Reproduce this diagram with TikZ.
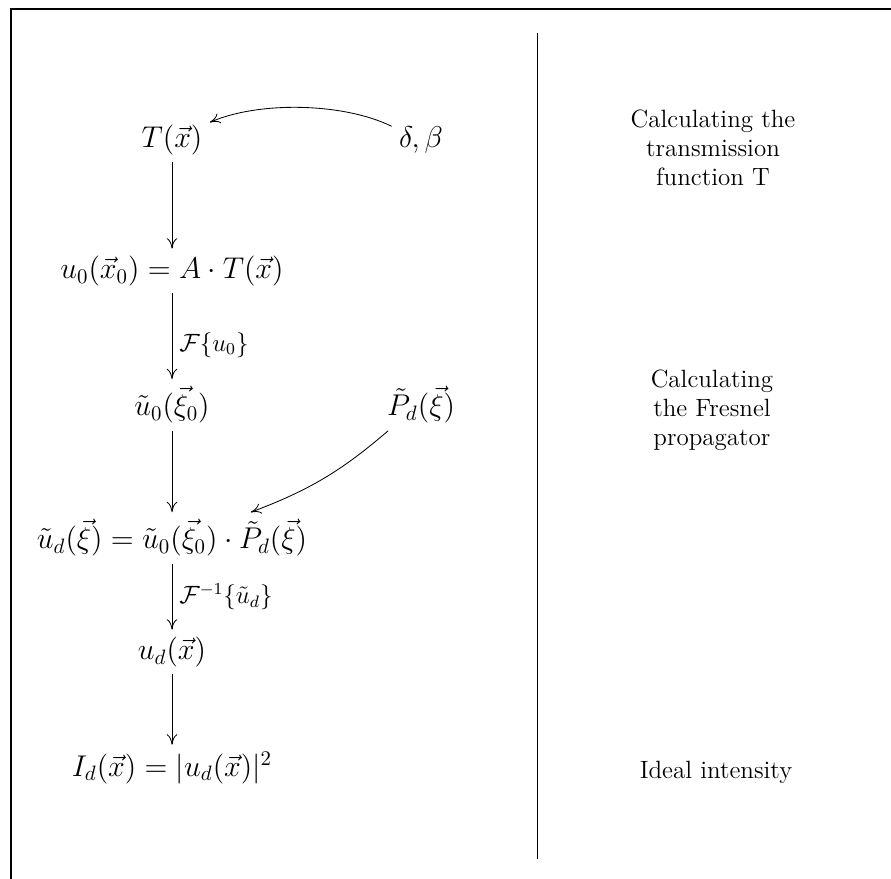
\documentclass[tikz,border=0pt]{standalone}
\usetikzlibrary{arrows.meta}
\begin{document}
\begin{tikzpicture}[x=0.48pt,y=0.48pt,
  mathnode/.style={font=\Large},
  lbl/.style={font=\large},
  desc/.style={font=\large, align=center},
  arr/.style={-{To[length=5pt,width=5pt]}},
  frame/.style={line width=0.6pt}]
\useasboundingbox (0,0) rectangle (891,-879);
% frame (partially visible)
\coordinate (fbl) at (11,-879);
\coordinate (ftl) at (11,-9);
\coordinate (ftr) at (891,-9);
\draw[frame] (fbl) -- (ftl) -- (ftr);
% divider
\coordinate (dtop) at (537,-33);
\coordinate (dbot) at (537,-859);
\draw (dtop) -- (dbot);
% nodes
\node[mathnode] (T) at (172,-140) {$T(\vec{x})$};
\node[mathnode] (db) at (421,-140) {$\delta,\beta$};
\node[mathnode] (u0) at (172,-271) {$u_0(\vec{x}_0) = A\cdot T(\vec{x})$};
\node[mathnode] (tu0) at (172,-405) {$\tilde{u}_0(\vec{\xi}_0)$};
\node[mathnode] (Pd) at (421,-405) {$\tilde{P}_d(\vec{\xi})$};
\node[mathnode] (tud) at (172,-538) {$\tilde{u}_d(\vec{\xi}) = \tilde{u}_0(\vec{\xi}_0)\cdot\tilde{P}_d(\vec{\xi})$};
\node[mathnode] (ud) at (172,-652) {$u_d(\vec{x})$};
\node[mathnode] (Id) at (172,-768) {$I_d(\vec{x}) = |u_d(\vec{x})|^2$};
% arrows
\draw[arr] (db) to[bend right=25, looseness=0.75] (T);
\draw[arr] (T) -- (u0);
\draw[arr] (u0) -- node[right, lbl, pos=0.6] {$\mathcal{F}\{u_0\}$} (tu0);
\draw[arr] (tu0) -- (tud);
\draw[arr] (Pd) to[bend left=10] (tud);
\draw[arr] (tud) -- node[right, lbl] {$\mathcal{F}^{-1}\{\tilde{u}_d\}$} (ud);
\draw[arr] (ud) -- (Id);
% descriptions
\node[desc] (d1) at (713,-148) {Calculating the\\transmission\\function T};
\node[desc] (d2) at (712,-410) {Calculating\\the Fresnel\\propagator};
\node[desc] (d3) at (716,-772) {Ideal intensity};
\end{tikzpicture}
\end{document}
